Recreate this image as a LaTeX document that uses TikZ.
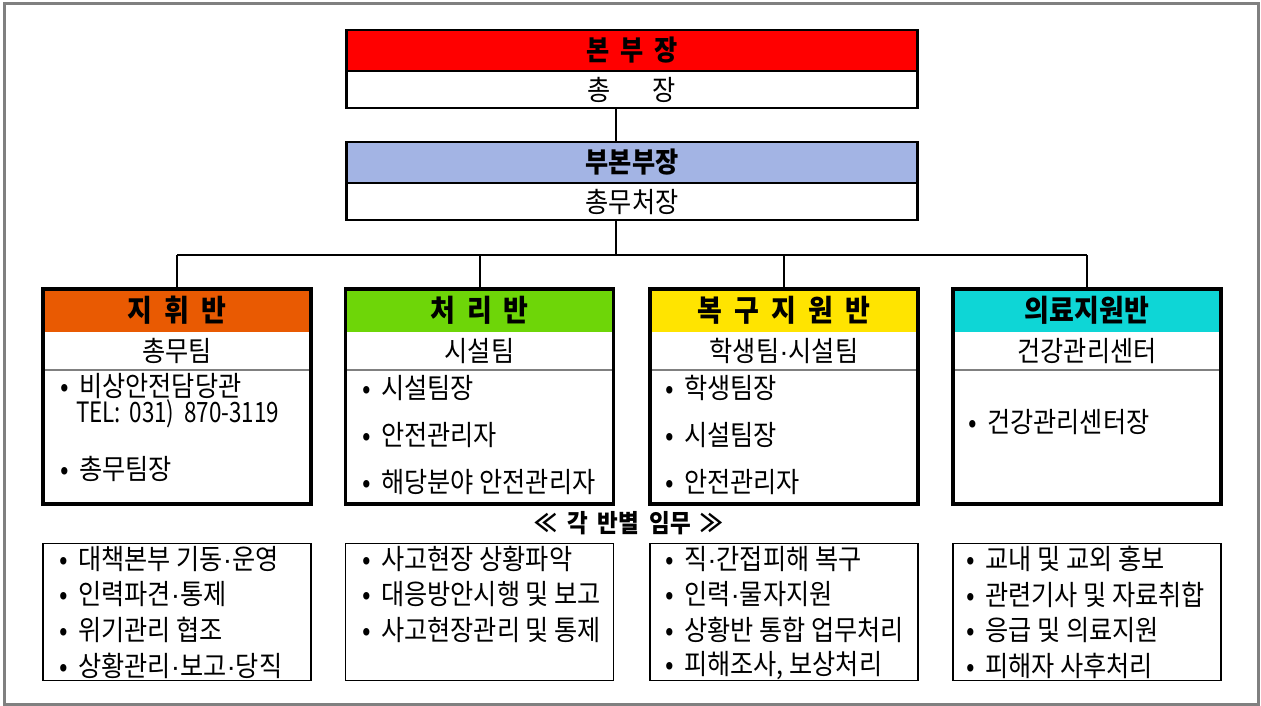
\documentclass[tikz,border=0pt]{standalone}
\usepackage{fontspec}
\newfontfamily\kr[FakeStretch=0.9]{Noto Sans CJK KR}
\newfontfamily\krnarrow[FakeStretch=0.8]{Noto Sans CJK KR}
\newfontfamily\latin{Liberation Sans}
\definecolor{hqred}{RGB}{255,0,0}
\definecolor{viceblue}{RGB}{163,180,228}
\definecolor{cmdorange}{RGB}{233,90,2}
\definecolor{opgreen}{RGB}{110,214,8}
\definecolor{recyellow}{RGB}{255,228,0}
\definecolor{medcyan}{RGB}{14,214,214}
\definecolor{framegray}{RGB}{128,128,128}
\newcommand{\itemdot}{\makebox[19pt][l]{•}}
\newcommand{\mdot}{{\latin ·}}
\newcommand{\hgap}{\hspace{.4em}}
\usetikzlibrary{positioning}
\tikzset{
  tophead/.style={anchor=north, minimum width=571, minimum height=41, inner sep=0pt, outer sep=0pt, font=\kr\bfseries\fontsize{28}{28}\selectfont},
  topsub/.style={minimum width=571, minimum height=37, inner sep=0pt, outer sep=0pt, font=\kr\fontsize{28}{28}\selectfont},
  teamhead/.style={anchor=north, minimum width=268, minimum height=43, inner sep=0pt, outer sep=0pt, font=\kr\bfseries\fontsize{30}{30}\selectfont},
  teamsub/.style={minimum width=268, minimum height=38, inner sep=0pt, outer sep=0pt, font=\kr\fontsize{28}{28}\selectfont},
  teambody/.style={minimum width=268, minimum height=134, inner sep=0pt, outer sep=0pt},
  dutybox/.style={anchor=north, draw, line width=1.3, minimum width=268, minimum height=137, inner sep=0pt},
  item/.style={anchor=west, inner sep=0pt, font=\kr\fontsize{28}{28}\selectfont},
  wire/.style={line width=2},
}
\begin{document}
\begin{tikzpicture}[x=1pt,y=-1pt]
\useasboundingbox (0,0) rectangle (1261,706);
\draw[framegray, line width=3.5] (4.5,3.5) rectangle (1258.5,704.5);
\coordinate (bus) at (616,255);

% head office
\node[tophead, fill=hqred] (hq) at (632,30) {본\hgap 부\hgap 장};
\node[topsub, below=0pt of hq] (hqsub) {총\hspace{1.5em}장};
\draw[line width=2] (hq.south west) -- (hq.south east);
\draw[line width=2.5] (hq.north west) rectangle (hqsub.south east);

\node[tophead, fill=viceblue] (vice) at (632,142) {부본부장};
\node[topsub, below=0pt of vice] (vicesub) {총무처장};
\draw[line width=2] (vice.south west) -- (vice.south east);
\draw[line width=2.5] (vice.north west) rectangle (vicesub.south east);

\draw[wire] (hqsub.south -| bus) -- (vice.north -| bus);
\draw[wire] (vicesub.south -| bus) -- (bus);

% teams
\foreach \n/\x/\c/\h/\s in {cmd/177/cmdorange/{지\hgap 휘\hgap 반}/총무팀,
                            op/479.5/opgreen/{처\hgap 리\hgap 반}/시설팀,
                            rec/784/recyellow/{복\hgap 구\hgap 지\hgap 원\hgap 반}/{학생팀\mdot 시설팀},
                            med/1087/medcyan/의료지원반/건강관리센터}
{
  \node[teamhead, fill=\c] (\n) at (\x,289) {\h};
  \node[teamsub, below=0pt of \n] (\n sub) {\s};
  \node[teambody, below=0pt of \n sub] (\n body) {};
  \draw[framegray, line width=1.2] (\n sub.south west) -- (\n sub.south east);
  \draw[line width=3.5] (\n.north west) rectangle (\n body.south east);
  \draw[wire] (\n.north) -- (\n.north |- bus);
  \node[dutybox] (\n duty) at (\x,543) {};
}
\draw[wire] (cmd.north |- bus) -- (med.north |- bus);

% members
\node[item] (cmd1) at (60,386) {\itemdot 비상안전담당관};
\node[item, font=\krnarrow\fontsize{28}{28}\selectfont] (cmdtel) at (76,414) {TEL:\hspace{.3em}031)\hspace{.35em}870-3119};
\node[item] (cmd2) at (60,469) {\itemdot 총무팀장};
\node[item] (op1) at (362,388) {\itemdot 시설팀장};
\node[item] (op2) at (362,435) {\itemdot 안전관리자};
\node[item] (op3) at (362,482) {\itemdot 해당분야 안전관리자};
\node[item] (rec1) at (665,388) {\itemdot 학생팀장};
\node[item] (rec2) at (665,435) {\itemdot 시설팀장};
\node[item] (rec3) at (665,482) {\itemdot 안전관리자};
\node[item] (med1) at (968,422) {\itemdot 건강관리센터장};

% duties
\node[font=\kr\bfseries\fontsize{25}{25}\selectfont] (duties) at (629,523) {≪\hgap 각\hgap 반별\hgap 임무\hgap ≫};
\foreach \t [count=\k] in {대책본부 기동\mdot 운영, 인력파견\mdot 통제, 위기관리 협조, 상황관리\mdot 보고\mdot 당직}
  \node[item] (cmdjob\k) at (59,523.5+35.5*\k) {\itemdot\t};
\foreach \t [count=\k] in {사고현장 상황파악, 대응방안시행 및 보고, 사고현장관리 및 통제}
  \node[item] (opjob\k) at (362,523.5+35.5*\k) {\itemdot\t};
\foreach \t [count=\k] in {직\mdot 간접피해 복구, 인력\mdot 물자지원, 상황반 통합 업무처리, {피해조사, 보상처리}}
  \node[item] (recjob\k) at (665,523.5+35.5*\k) {\itemdot\t};
\foreach \t [count=\k] in {교내 및 교외 홍보, 관련기사 및 자료취합, 응급 및 의료지원, 피해자 사후처리}
  \node[item] (medjob\k) at (966,523.5+35.5*\k) {\itemdot\t};
\end{tikzpicture}
\end{document}
